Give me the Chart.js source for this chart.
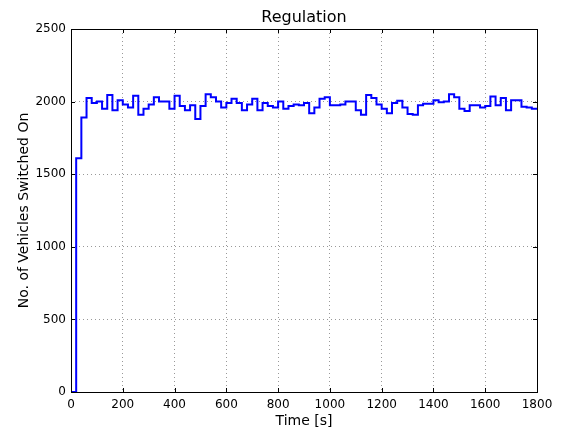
<!DOCTYPE html>
<html>
<head>
<meta charset="utf-8">
<script src="https://cdn.jsdelivr.net/npm/chart.js@4"></script>
<style>
  body { margin: 0; background: #fff; }
  #wrap { width: 564px; height: 430px; }
</style>
</head>
<body>
<div id="wrap"><canvas id="chart" width="564" height="430"></canvas></div>
<script>
// time at the start of each step [s]
const times = [
  0, 20, 40, 60, 80, 100, 120, 140, 160, 180,
  200, 220, 240, 260, 280, 300, 320, 340, 360, 380,
  400, 420, 440, 460, 480, 500, 520, 540, 560, 580,
  600, 620, 640, 660, 680, 700, 720, 740, 760, 780,
  800, 820, 840, 860, 880, 900, 920, 940, 960, 980,
  1000, 1020, 1040, 1060, 1080, 1100, 1120, 1140, 1160, 1180,
  1200, 1220, 1240, 1260, 1280, 1300, 1320, 1340, 1360, 1380,
  1400, 1420, 1440, 1460, 1480, 1500, 1520, 1540, 1560, 1580,
  1600, 1620, 1640, 1660, 1680, 1700, 1720, 1740, 1760, 1780,
  1800
];

// vehicles switched on during each step
const vehicles = [
  0, 1610, 1890, 2025, 1990, 2000, 1950, 2045, 1940, 2010,
  1980, 1960, 2040, 1910, 1950, 1980, 2030, 2000, 2000, 1950,
  2040, 1970, 1940, 1975, 1880, 1970, 2050, 2030, 2000, 1960,
  1990, 2020, 1990, 1940, 1980, 2020, 1940, 1990, 1970, 1960,
  2000, 1950, 1970, 1980, 1975, 1990, 1920, 1960, 2020, 2030,
  1975, 1975, 1980, 2000, 2000, 1940, 1910, 2045, 2025, 1980,
  1950, 1920, 1990, 2005, 1960, 1915, 1910, 1975, 1985, 1985,
  2010, 1995, 2000, 2050, 2030, 1950, 1935, 1975, 1975, 1960,
  1970, 2035, 1975, 2025, 1940, 2010, 2010, 1965, 1960, 1950,
  1950
];

const xTicks = [0, 200, 400, 600, 800, 1000, 1200, 1400, 1600, 1800];
const yTicks = [0, 500, 1000, 1500, 2000, 2500];

const FONT = "'DejaVu Sans', sans-serif";

// title, axis labels, frame and inward ticks like matplotlib
const decorations = {
  id: 'decorations',
  afterDraw(chart) {
    const ctx = chart.ctx;
    const a = chart.chartArea;
    const xs = chart.scales.x;
    const ys = chart.scales.y;
    ctx.save();
    ctx.strokeStyle = '#000';
    ctx.lineWidth = 1;
    ctx.beginPath();
    xTicks.forEach(v => {
      const px = Math.round(xs.getPixelForValue(v)) + 0.5;
      ctx.moveTo(px, a.bottom); ctx.lineTo(px, a.bottom - 4);
      ctx.moveTo(px, a.top); ctx.lineTo(px, a.top + 4);
    });
    yTicks.forEach(v => {
      const py = Math.round(ys.getPixelForValue(v)) + 0.5;
      ctx.moveTo(a.left, py); ctx.lineTo(a.left + 4, py);
      ctx.moveTo(a.right, py); ctx.lineTo(a.right - 4, py);
    });
    ctx.stroke();
    ctx.strokeRect(Math.round(a.left) + 0.5, Math.round(a.top) + 0.5,
      Math.round(a.right - a.left), Math.round(a.bottom - a.top));

    ctx.fillStyle = '#000';
    ctx.textAlign = 'center';
    ctx.textBaseline = 'middle';
    const cx = (a.left + a.right) / 2;
    ctx.font = '16px ' + FONT;
    ctx.fillText('Regulation', cx, 18);
    ctx.font = '14px ' + FONT;
    ctx.fillText('Time [s]', cx, 421);
    ctx.translate(24, (a.top + a.bottom) / 2);
    ctx.rotate(-Math.PI / 2);
    ctx.fillText('No. of Vehicles Switched On', 0, 0);
    ctx.restore();
  }
};

new Chart(document.getElementById('chart'), {
  type: 'line',
  data: {
    datasets: [{
      label: 'Vehicles',
      data: times.map((t, i) => ({ x: t, y: vehicles[i] })),
      borderColor: '#0000ff',
      borderWidth: 2,
      pointRadius: 0,
      stepped: true,
      fill: false
    }]
  },
  options: {
    responsive: false,
    animation: false,
    layout: { padding: { top: 29, right: 27, left: 0, bottom: 0 } },
    plugins: { legend: { display: false }, tooltip: { enabled: false } },
    scales: {
      x: {
        type: 'linear', min: 0, max: 1800,
        afterFit(s) { s.height = 38; },
        afterBuildTicks(s) { s.ticks = xTicks.map(v => ({ value: v })); },
        border: { display: false, dash: [1, 3] },
        grid: { color: 'rgba(0,0,0,0.4)', drawTicks: false, lineWidth: 1 },
        ticks: { padding: 6, color: '#000', font: { family: FONT, size: 12 }, maxRotation: 0,
          callback: v => String(v) }
      },
      y: {
        min: 0, max: 2500,
        afterFit(s) { s.width = 71; },
        afterBuildTicks(s) { s.ticks = yTicks.map(v => ({ value: v })); },
        border: { display: false, dash: [1, 3] },
        grid: { color: 'rgba(0,0,0,0.4)', drawTicks: false, lineWidth: 1 },
        ticks: { padding: 5, color: '#000', font: { family: FONT, size: 12 },
          callback: v => String(v) }
      }
    }
  },
  plugins: [decorations]
});
</script>
</body>
</html>
